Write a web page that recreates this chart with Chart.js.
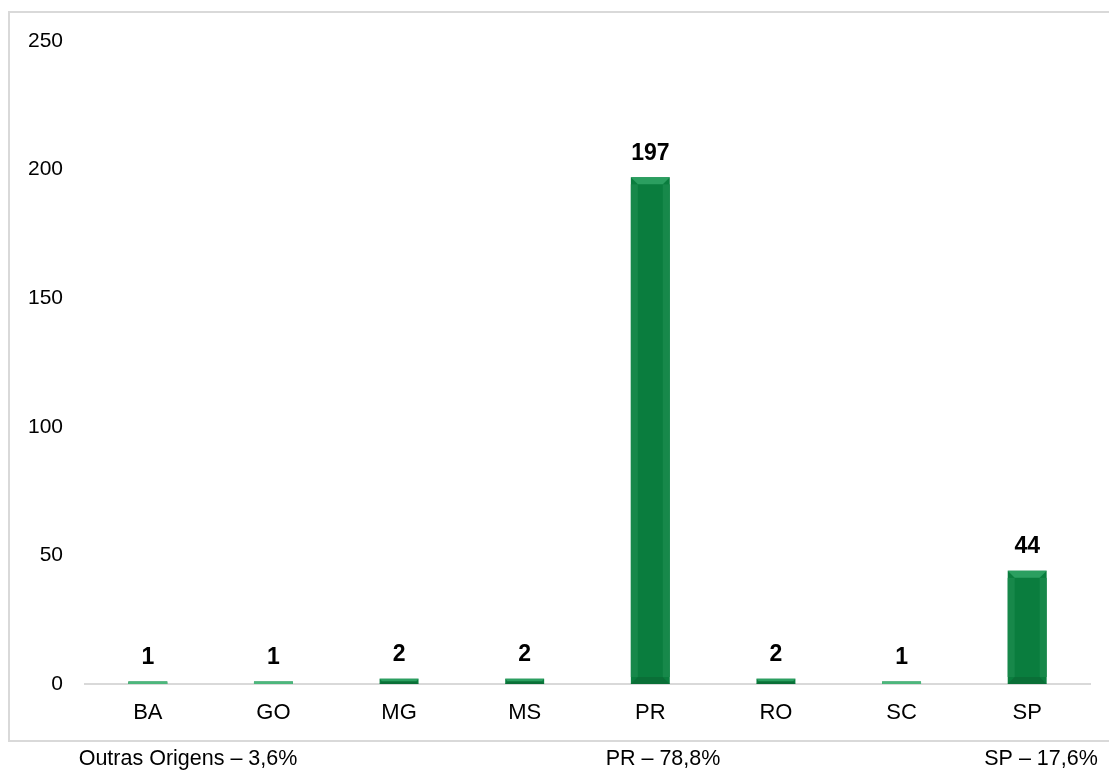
<!DOCTYPE html>
<html>
<head>
<meta charset="utf-8">
<script src="https://cdn.jsdelivr.net/npm/chart.js@4"></script>
<style>
  html, body { margin: 0; padding: 0; background: #fff; }
  #wrap { width: 1109px; height: 774px; }
</style>
</head>
<body>
<div id="wrap"><canvas id="bar-chart" width="1109" height="774"></canvas></div>
<script>
const estados = ["BA", "GO", "MG", "MS", "PR", "RO", "SC", "SP"];
const quantidade = [1, 1, 2, 2, 197, 2, 1, 44];
const yTicks = [0, 50, 100, 150, 200, 250];
const rodape = ["Outras Origens – 3,6%", "PR – 78,8%", "SP – 17,6%"];
const rodapeX = [188, 663, 1041];

// moldura cinza + legenda de rodapé
const moldura = {
  id: "moldura",
  beforeDraw(chart) {
    const ctx = chart.ctx;
    ctx.save();
    ctx.strokeStyle = "#d9d9d9";
    ctx.lineWidth = 2;
    ctx.strokeRect(9, 12, 1120, 729);
    ctx.fillStyle = "#000";
    ctx.font = "21.5px 'Liberation Sans', Arial, sans-serif";
    ctx.textAlign = "center";
    ctx.textBaseline = "middle";
    rodape.forEach((t, i) => ctx.fillText(t, rodapeX[i], 759));
    ctx.restore();
  }
};

// chanfro claro nas barras + valores em cima
const rotulos = {
  id: "rotulos",
  afterDatasetsDraw(chart) {
    const ctx = chart.ctx;
    const meta = chart.getDatasetMeta(0);
    ctx.save();
    meta.data.forEach((bar) => {
      const w = bar.width, h = bar.base - bar.y;
      const l = bar.x - w / 2, r = bar.x + w / 2;
      if (h < 4) {
        ctx.fillStyle = "#4cb77c";
        ctx.fillRect(l, bar.y, w, h);
        return;
      }
      const b = Math.min(7, h / 2);
      ctx.fillStyle = "#2b9f60";
      ctx.beginPath();
      ctx.moveTo(l, bar.y); ctx.lineTo(r, bar.y);
      ctx.lineTo(r - b, bar.y + b); ctx.lineTo(l + b, bar.y + b);
      ctx.closePath(); ctx.fill();
      ctx.fillStyle = "#17884a";
      ctx.fillRect(l, bar.y + b, b, h - 2 * b);
      ctx.fillRect(r - b, bar.y + b, b, h - 2 * b);
      ctx.fillStyle = "#0a6f37";
      ctx.beginPath();
      ctx.moveTo(l, bar.base); ctx.lineTo(r, bar.base);
      ctx.lineTo(r - b, bar.base - b); ctx.lineTo(l + b, bar.base - b);
      ctx.closePath(); ctx.fill();
    });
    ctx.fillStyle = "#000";
    ctx.font = "bold 23px 'Liberation Sans', Arial, sans-serif";
    ctx.textAlign = "center";
    ctx.textBaseline = "middle";
    meta.data.forEach((bar, i) => {
      ctx.fillText(quantidade[i], bar.x, bar.y - 24);
    });
    ctx.restore();
  }
};

new Chart(document.getElementById("bar-chart"), {
  type: "bar",
  data: {
    labels: estados,
    datasets: [
      {
        data: quantidade,
        backgroundColor: "#0a7d3e",
        borderWidth: 0,
        categoryPercentage: 1,
        barPercentage: 0.31,
        minBarLength: 2,
      },
    ],
  },
  options: {
    responsive: false,
    animation: false,
    devicePixelRatio: 1,
    layout: { padding: { top: 41, right: 19, bottom: 33, left: 0 } },
    plugins: {
      legend: { display: false },
      tooltip: { enabled: false },
    },
    scales: {
      x: {
        grid: { display: false, drawTicks: false },
        border: { display: true, color: "#d9d9d9", width: 2 },
        ticks: {
          color: "#000",
          padding: 16,
          font: { size: 22, family: "'Liberation Sans', Arial, sans-serif" },
        },
        afterFit: (s) => { s.height = 57; },
      },
      y: {
        min: 0,
        max: 250,
        afterBuildTicks: (s) => { s.ticks = yTicks.map((v) => ({ value: v })); },
        grid: { display: false, drawTicks: false },
        border: { display: false },
        ticks: {
          color: "#000",
          padding: 22,
          font: { size: 21, family: "'Liberation Sans', Arial, sans-serif" },
        },
        afterFit: (s) => { s.width = 85; },
      },
    },
  },
  plugins: [moldura, rotulos],
});
</script>
</body>
</html>
